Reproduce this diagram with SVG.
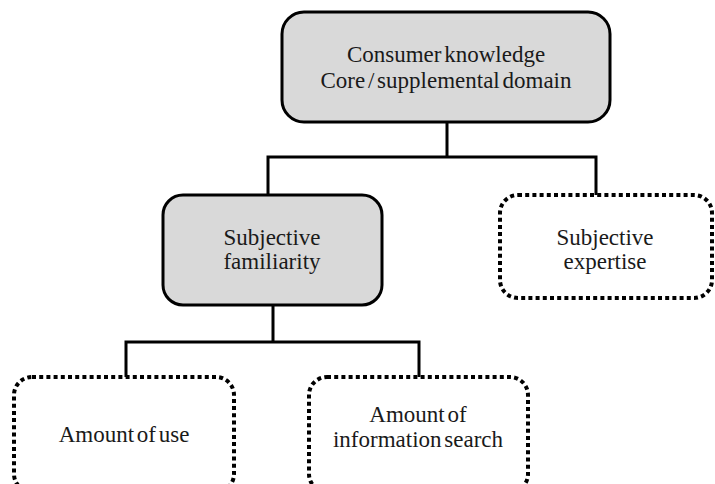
<svg xmlns="http://www.w3.org/2000/svg" width="715" height="484" viewBox="0 0 715 484">
  <style>
    .solid { fill: #d9d9d9; stroke: #000; stroke-width: 3; }
    .dotted { fill: #fff; stroke: #000; stroke-width: 4; stroke-dasharray: 4 3.2; }
    .lbl { font-family: 'Liberation Serif', 'DejaVu Serif', serif; font-size: 23px; word-spacing: -3px; fill: #1a1a1a; text-anchor: middle; }
    .conn { fill: none; stroke: #000; stroke-width: 3; }
  </style>
  <rect width="715" height="484" fill="#fff"/>

  <!-- tree connectors -->
  <g id="connectors">
    <path class="conn" d="M447 122 V157 M268 195 V157 H596 V195"/>
    <path class="conn" d="M273 305 V342 M126 377 V342 H419 V377"/>
  </g>

  <g id="consumer-knowledge">
    <rect class="solid" x="282" y="12" width="328" height="110" rx="22"/>
    <text class="lbl" x="446" y="62">Consumer knowledge</text>
    <text class="lbl" x="446" y="88">Core / supplemental domain</text>
  </g>

  <g id="subjective-familiarity">
    <rect class="solid" x="163" y="195" width="219" height="110" rx="20"/>
    <text class="lbl" x="272" y="245">Subjective</text>
    <text class="lbl" x="272" y="269">familiarity</text>
  </g>

  <g id="subjective-expertise">
    <rect class="dotted" x="500" y="195" width="212" height="103" rx="18"/>
    <text class="lbl" x="605" y="245">Subjective</text>
    <text class="lbl" x="605" y="269">expertise</text>
  </g>

  <g id="amount-of-use">
    <rect class="dotted" x="14" y="377" width="220" height="115" rx="18"/>
    <text class="lbl" x="124" y="442">Amount of use</text>
  </g>

  <g id="amount-of-information-search">
    <rect class="dotted" x="309" y="377" width="219" height="115" rx="18"/>
    <text class="lbl" x="418" y="422">Amount of</text>
    <text class="lbl" x="418" y="447">information search</text>
  </g>
</svg>
